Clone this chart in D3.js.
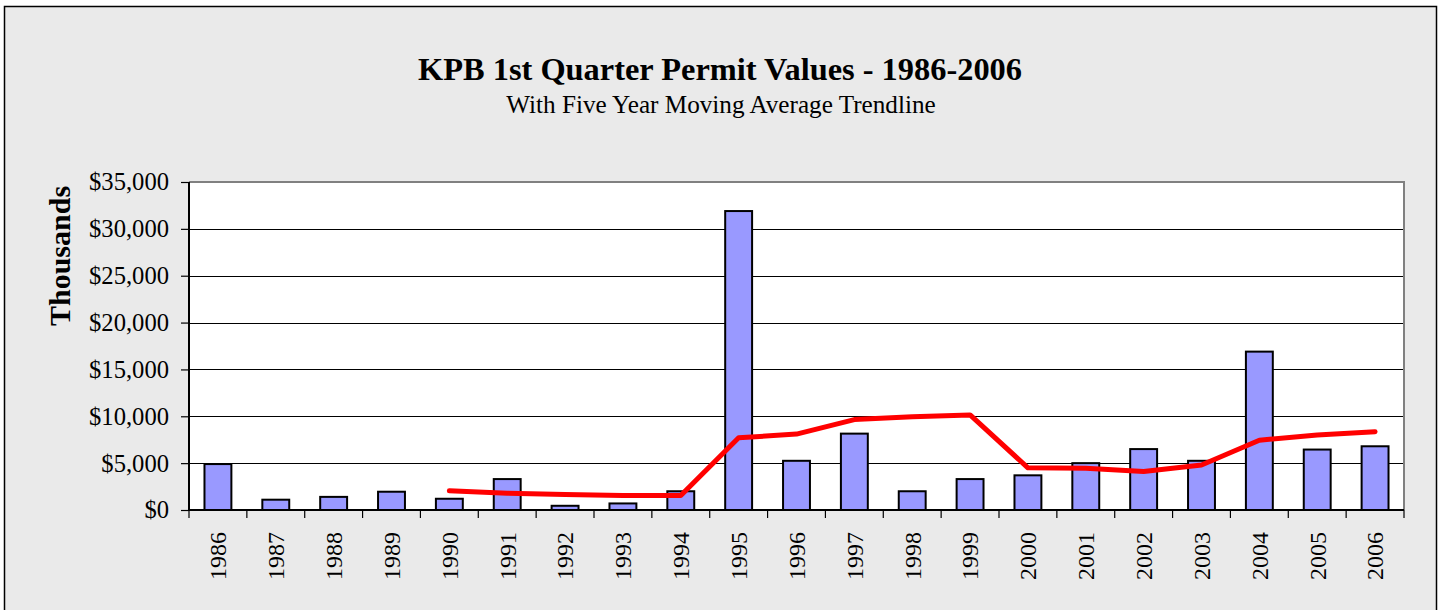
<!DOCTYPE html>
<html>
<head>
<meta charset="utf-8">
<script src="https://cdn.jsdelivr.net/npm/d3@7"></script>
<style>
  body { margin: 0; background: #fff; }
  text { font-family: "Liberation Serif", "Times New Roman", serif; }
</style>
</head>
<body>
<div id="chart"></div>
<script>
var years = ["1986", "1987", "1988", "1989", "1990", "1991", "1992", "1993", "1994", "1995", "1996",
  "1997", "1998", "1999", "2000", "2001", "2002", "2003", "2004", "2005", "2006"];
var permitValues = [4900, 1100, 1400, 1950, 1200, 3300, 450, 700, 2000, 31900, 5250,
  8150, 2000, 3300, 3700, 5000, 6500, 5250, 16900, 6450, 6800];
// five year moving average, starts at 1990
var trendYears = ["1990", "1991", "1992", "1993", "1994", "1995", "1996", "1997", "1998", "1999",
  "2000", "2001", "2002", "2003", "2004", "2005", "2006"];
var trendValues = [2050, 1800, 1650, 1550, 1550, 7700, 8100, 9650, 9950, 10150,
  4500, 4450, 4100, 4800, 7450, 8000, 8350];
var yTicks = [0, 5000, 10000, 15000, 20000, 25000, 30000, 35000];

var svgWidth = 1440;
var svgHeight = 610;

var margin = { top: 182, right: 36, bottom: 100, left: 189 };
var width = 1404 - margin.left;
var height = 510 - margin.top;

var svg = d3.select("#chart")
  .append("svg")
  .attr("width", svgWidth)
  .attr("height", svgHeight);

// outer chart box
svg.append("rect")
  .attr("x", 4.5)
  .attr("y", 6.5)
  .attr("width", 1432)
  .attr("height", 620)
  .attr("fill", "#eaeaea")
  .attr("stroke", "#000")
  .attr("stroke-width", 1.5);

svg.append("text")
  .attr("x", 720)
  .attr("y", 80)
  .attr("text-anchor", "middle")
  .attr("font-size", "32.4px")
  .attr("font-weight", "bold")
  .text("KPB 1st Quarter Permit Values - 1986-2006");

svg.append("text")
  .attr("x", 721)
  .attr("y", 113)
  .attr("text-anchor", "middle")
  .attr("font-size", "25.2px")
  .text("With Five Year Moving Average Trendline");

var chartGroup = svg.append("g")
  .attr("transform", `translate(${margin.left}, ${margin.top})`);

var xScale = d3.scaleBand()
  .domain(years)
  .range([0, width]);

var yScale = d3.scaleLinear()
  .domain([0, 35000])
  .range([height, 0]);

chartGroup.append("rect")
  .attr("width", width)
  .attr("height", height)
  .attr("fill", "#fff");

// gridlines
chartGroup.append("g")
  .selectAll("line")
  .data(yTicks.filter(d => d > 0 && d < 35000))
  .enter()
  .append("line")
  .attr("x1", 0)
  .attr("x2", width)
  .attr("y1", d => Math.round(yScale(d)) + 0.5)
  .attr("y2", d => Math.round(yScale(d)) + 0.5)
  .attr("stroke", "#000")
  .attr("stroke-width", 1);

// gray top and right border
chartGroup.append("path")
  .attr("d", `M0,${yScale(35000)}H${width}V${height}`)
  .attr("fill", "none")
  .attr("stroke", "#808080")
  .attr("stroke-width", 2);

var barWidth = xScale.bandwidth() * 0.465;

chartGroup.selectAll(".bar")
  .data(years)
  .enter()
  .append("rect")
  .attr("class", "bar")
  .attr("x", (d) => xScale(d) + (xScale.bandwidth() - barWidth) / 2)
  .attr("y", (d, i) => yScale(permitValues[i]))
  .attr("width", barWidth)
  .attr("height", (d, i) => height - yScale(permitValues[i]))
  .attr("fill", "#9999ff")
  .attr("stroke", "#000")
  .attr("stroke-width", 2);

var line = d3.line()
  .x((d) => xScale(d) + xScale.bandwidth() / 2)
  .y((d, i) => yScale(trendValues[i]));

chartGroup.append("path")
  .datum(trendYears)
  .attr("d", line)
  .attr("fill", "none")
  .attr("stroke", "#ff0000")
  .attr("stroke-width", 5)
  .attr("stroke-linejoin", "round")
  .attr("stroke-linecap", "round");

// y axis
var leftAxis = d3.axisLeft(yScale)
  .tickValues(yTicks)
  .tickSize(8)
  .tickPadding(12)
  .tickFormat(d => "$" + d3.format(",")(d));

var yAxis = chartGroup.append("g")
  .call(leftAxis);
yAxis.select(".domain").attr("stroke-width", 2).attr("d", `M0,0V${height}`);
yAxis.selectAll(".tick line").attr("stroke-width", 1.2);
yAxis.selectAll("text")
  .attr("font-size", "24.6px")
  .attr("font-family", "Liberation Serif, serif")
  .attr("fill", "#000");

// x axis: ticks at band edges
var xAxis = chartGroup.append("g")
  .attr("transform", `translate(0, ${height})`);
xAxis.append("line")
  .attr("x1", 0)
  .attr("x2", width)
  .attr("stroke", "#000")
  .attr("stroke-width", 2);
xAxis.selectAll(".edge")
  .data(years.concat(["end"]))
  .enter()
  .append("line")
  .attr("class", "edge")
  .attr("x1", (d, i) => i < years.length ? xScale(d) : width)
  .attr("x2", (d, i) => i < years.length ? xScale(d) : width)
  .attr("y1", 0)
  .attr("y2", 8)
  .attr("stroke", "#000")
  .attr("stroke-width", 1.2);
xAxis.selectAll(".xlabel")
  .data(years)
  .enter()
  .append("text")
  .attr("class", "xlabel")
  .attr("transform", d => `translate(${xScale(d) + xScale.bandwidth() / 2}, 22) rotate(-90)`)
  .attr("text-anchor", "end")
  .attr("dy", "0.35em")
  .attr("font-size", "24px")
  .text(d => d);

chartGroup.append("text")
  .attr("transform", "rotate(-90)")
  .attr("x", -74)
  .attr("y", -119)
  .attr("text-anchor", "middle")
  .attr("font-size", "30px")
  .attr("font-weight", "bold")
  .text("Thousands");
</script>
</body>
</html>
